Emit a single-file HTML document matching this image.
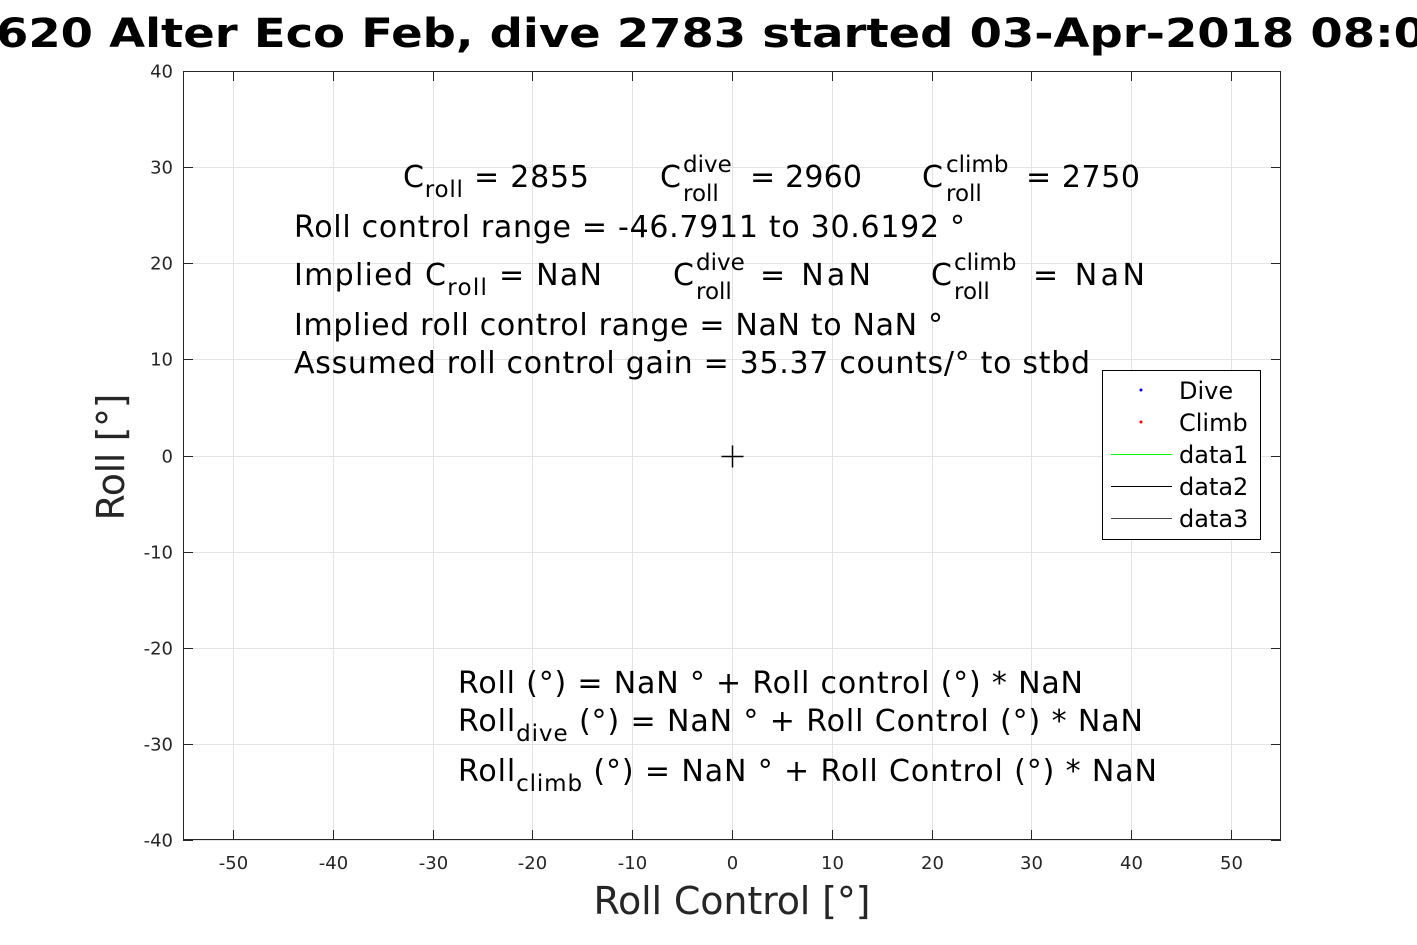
<!DOCTYPE html>
<html><head><meta charset="utf-8"><style>
html,body{margin:0;padding:0;background:#fff;}
svg{display:block;font-family:"DejaVu Sans","Liberation Sans",sans-serif;}
</style></head><body>
<svg id="chart" width="1417" height="945" viewBox="0 0 1417 945">
<rect x="0" y="0" width="1417" height="945" fill="#fff"/>
<text x="-4" y="47" font-size="40" font-weight="bold" fill="#000" textLength="1430" lengthAdjust="spacingAndGlyphs">620 Alter Eco Feb, dive 2783 started 03-Apr-2018 08:0</text>
<g id="grid"></g>
<rect x="183.5" y="71.5" width="1097" height="768" fill="none" stroke="#262626" stroke-width="1"/>
<g id="ticks"></g>
<g id="marks"></g>
<text x="732" y="914" font-size="38" fill="#262626" text-anchor="middle" textLength="277">Roll Control [°]</text>
<text transform="translate(124,457) rotate(-90)" font-size="38" fill="#262626" text-anchor="middle" textLength="127">Roll [°]</text>
<g font-size="30" fill="#000">
<text x="403" y="187" textLength="186">C<tspan font-size="23" dy="10">roll</tspan><tspan dy="-10"> = 2855</tspan></text>
<text x="660" y="187">C</text>
<text x="683" y="172" font-size="23">dive</text><text x="683" y="201" font-size="23">roll</text>
<text x="750" y="187" textLength="112">= 2960</text>
<text x="922" y="187">C</text>
<text x="946" y="172" font-size="23">climb</text><text x="946" y="201" font-size="23">roll</text>
<text x="1026" y="187" textLength="114">= 2750</text>
<text x="294" y="237" textLength="671">Roll control range = -46.7911 to 30.6192 °</text>
<text x="294" y="285" textLength="308">Implied C<tspan font-size="23" dy="10">roll</tspan><tspan dy="-10"> =  NaN</tspan></text>
<text x="673" y="285">C</text>
<text x="696" y="270" font-size="23">dive</text><text x="696" y="299" font-size="23">roll</text>
<text x="760" y="285" textLength="111">=  NaN</text>
<text x="931" y="285">C</text>
<text x="954" y="270" font-size="23">climb</text><text x="954" y="299" font-size="23">roll</text>
<text x="1033" y="285" textLength="112">=  NaN</text>
<text x="294" y="335" textLength="649">Implied roll control range = NaN to NaN °</text>
<text x="294" y="373" textLength="796">Assumed roll control gain = 35.37 counts/° to stbd</text>
<text x="458" y="693" textLength="625">Roll (°) = NaN ° + Roll control (°) * NaN</text>
<text x="458" y="731" textLength="685">Roll<tspan font-size="23" dy="10">dive</tspan><tspan dy="-10"> (°) = NaN ° + Roll Control (°) * NaN</tspan></text>
<text x="458" y="781" textLength="699">Roll<tspan font-size="23" dy="10">climb</tspan><tspan dy="-10"> (°) = NaN ° + Roll Control (°) * NaN</tspan></text>
</g>
<g>
<rect x="1102.5" y="370.5" width="158" height="169" fill="#fff" stroke="#000" stroke-width="1"/>
<g font-size="24" fill="#000">
<circle cx="1141" cy="390" r="1.5" fill="#00f"/>
<text x="1179" y="399">Dive</text>
<circle cx="1141" cy="422" r="1.5" fill="#f00"/>
<text x="1179" y="431">Climb</text>
<line x1="1111" y1="454.5" x2="1172" y2="454.5" stroke="#0f0"/>
<text x="1179" y="463">data1</text>
<line x1="1111" y1="486.5" x2="1172" y2="486.5" stroke="#000" stroke-width="1"/>
<text x="1179" y="495">data2</text>
<line x1="1111" y1="518.5" x2="1172" y2="518.5" stroke="#444" stroke-width="1"/>
<text x="1179" y="527">data3</text>
</g></g>
</svg>
<script>
const xTicks=[-50,-40,-30,-20,-10,0,10,20,30,40,50];
const yTicks=[40,30,20,10,0,-10,-20,-30,-40];
const centerX=[0];
const centerY=[0];
const X0=183,X1=1281,Y0=71,Y1=840;
const xs=v=>Math.round(X0+(v+55)/110*(X1-X0))+0.5;
const ys=v=>Math.round(Y1-(v+40)/80*(Y1-Y0))+0.5;
const NS="http://www.w3.org/2000/svg";
const grid=document.getElementById('grid'),ticks=document.getElementById('ticks'),marks=document.getElementById('marks');
function mk(tag,attrs,parent){const e=document.createElementNS(NS,tag);for(const k in attrs)e.setAttribute(k,attrs[k]);parent.appendChild(e);return e;}
xTicks.forEach(v=>{const x=xs(v);
 const g=mk('line',{x1:x,x2:x,y1:Y0,y2:Y1,stroke:'#e3e3e3','stroke-width':1},grid);
 
 
 mk('line',{x1:x,x2:x,y1:Y1,y2:Y1-10,stroke:'#262626'},ticks);
 mk('line',{x1:x,x2:x,y1:Y0,y2:Y0+10,stroke:'#262626'},ticks);
 const t=mk('text',{x:x,y:869,'font-size':18,fill:'#262626','text-anchor':'middle'},ticks);
 t.textContent=v;
 
 
});
yTicks.forEach(v=>{const y=ys(v);
 const g=mk('line',{x1:X0,x2:X1,y1:y,y2:y,stroke:'#e3e3e3','stroke-width':1},grid);
 
 
 mk('line',{x1:X0,x2:X0+10,y1:y,y2:y,stroke:'#262626'},ticks);
 mk('line',{x1:X1,x2:X1-10,y1:y,y2:y,stroke:'#262626'},ticks);
 const t=mk('text',{x:173,y:y+6,'font-size':18,fill:'#262626','text-anchor':'end'},ticks);
 t.textContent=v;
 
 
});
centerX.forEach((v,i)=>{const x=xs(v),y=ys(centerY[i]);
 const p=mk('path',{d:`M${x-11},${y}H${x+11}M${x},${y-11}V${y+11}`,stroke:'#000','stroke-width':1.5,fill:'none'},marks);
 
 
});
</script>
</body></html>
